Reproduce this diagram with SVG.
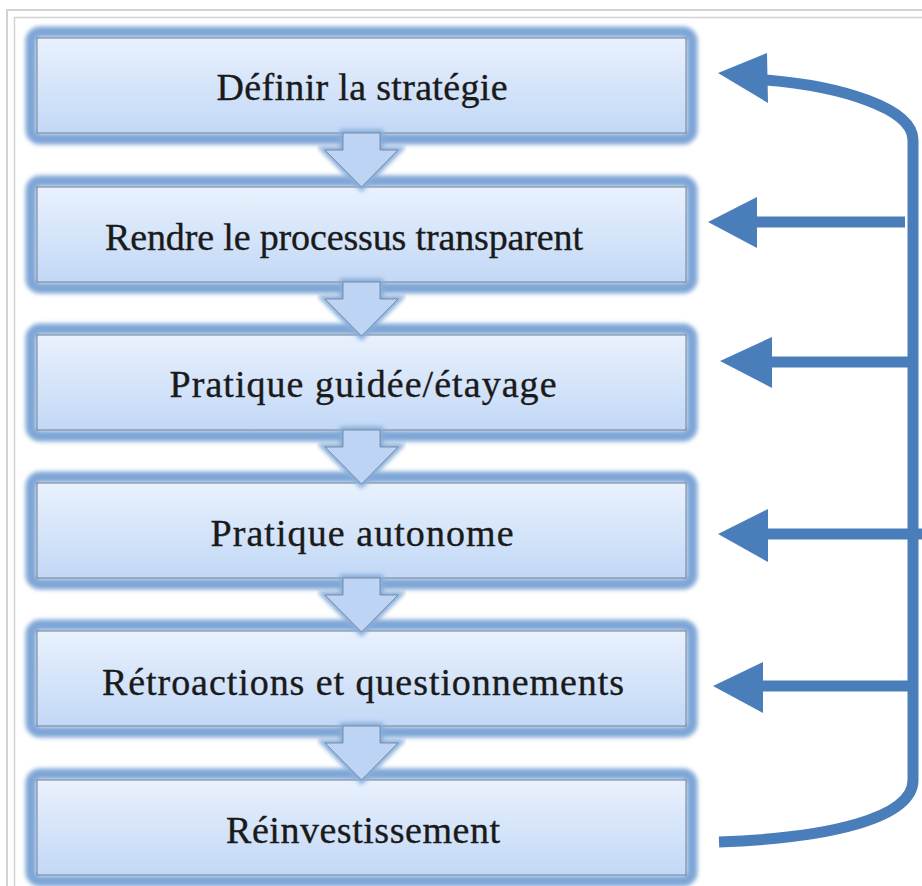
<svg xmlns="http://www.w3.org/2000/svg" width="922" height="886" viewBox="0 0 922 886">
<defs>
  <linearGradient id="bg" x1="0" y1="0" x2="0" y2="1">
    <stop offset="0" stop-color="#e9f1fd"/>
    <stop offset="1" stop-color="#c2d8f6"/>
  </linearGradient>
  <filter id="glow" x="-10%" y="-30%" width="120%" height="160%">
    <feGaussianBlur stdDeviation="2.2"/>
  </filter>
  <g id="box">
    <rect x="31" y="-6" width="661" height="107" rx="9" fill="none" stroke="#7ea6d6" stroke-width="11" filter="url(#glow)"/>
    <rect x="37" y="0" width="649" height="95" fill="url(#bg)" stroke="#6e7f96" stroke-width="1"/>
  </g>
  <g id="down">
    <path d="M343,0 L380,0 L380,17 L398,17 L361.5,54 L325,17 L343,17 Z" fill="#88afdc" stroke="#88afdc" stroke-width="7" filter="url(#glow)"/>
    <path d="M343,0 L380,0 L380,17 L398,17 L361.5,54 L325,17 L343,17 Z" fill="#bdd4f5" stroke="#707f93" stroke-width="0.8"/>
  </g>
</defs>
<style>
  .lbl { font-family: "Liberation Serif", "Times New Roman", serif; font-size: 38px; fill: #1a1a1a; stroke: #1a1a1a; stroke-width: 0.35; text-anchor: middle; }
  .conn { stroke: #4a7ebb; stroke-width: 11; fill: none; }
  .head { fill: #4a7ebb; }
  .frame { stroke: #d2d2d2; fill: none; }
</style>
<rect x="0" y="0" width="922" height="886" fill="#ffffff"/>
<g id="frame">
  <path class="frame" stroke-width="2" d="M7,886 L7,10 L922,10"/>
  <path class="frame" stroke-width="1.5" d="M14.5,886 L14.5,17.5 L922,17.5"/>
</g>
<g id="node1"><use href="#box" y="38"/><text class="lbl" x="362" y="100" textLength="291" lengthAdjust="spacing">Définir la stratégie</text></g>
<g id="node2"><use href="#box" y="187"/><text class="lbl" x="344" y="250" textLength="478" lengthAdjust="spacing">Rendre le processus transparent</text></g>
<g id="node3"><use href="#box" y="335"/><text class="lbl" x="363" y="397" textLength="387" lengthAdjust="spacing">Pratique guidée/étayage</text></g>
<g id="node4"><use href="#box" y="483"/><text class="lbl" x="362" y="546" textLength="303" lengthAdjust="spacing">Pratique autonome</text></g>
<g id="node5"><use href="#box" y="631"/><text class="lbl" x="363" y="695" textLength="522" lengthAdjust="spacing">Rétroactions et questionnements</text></g>
<g id="node6"><use href="#box" y="780"/><text class="lbl" x="363" y="843" textLength="274" lengthAdjust="spacing">Réinvestissement</text></g>
<g id="connectors">
  <use href="#down" y="133"/>
  <use href="#down" y="282"/>
  <use href="#down" y="430"/>
  <use href="#down" y="578"/>
  <use href="#down" y="726"/>
  <path class="conn" d="M766,80 C840,86 913,108 913,140 L913,780 C913,818 830,838 719,842"/>
  <polygon class="head" points="718,73 767,53 768,103"/>
  <path class="conn" d="M755,222 L905,222"/>
  <polygon class="head" points="708,222 757,197 757,248"/>
  <path class="conn" d="M770,362 L913,362"/>
  <polygon class="head" points="720,361 772,337 772,388"/>
  <path class="conn" d="M766,534 L922,534"/>
  <polygon class="head" points="718,534 768,509 768,562"/>
  <path class="conn" d="M761,686 L913,686"/>
  <polygon class="head" points="713,686 763,662 763,713"/>
</g>
</svg>
